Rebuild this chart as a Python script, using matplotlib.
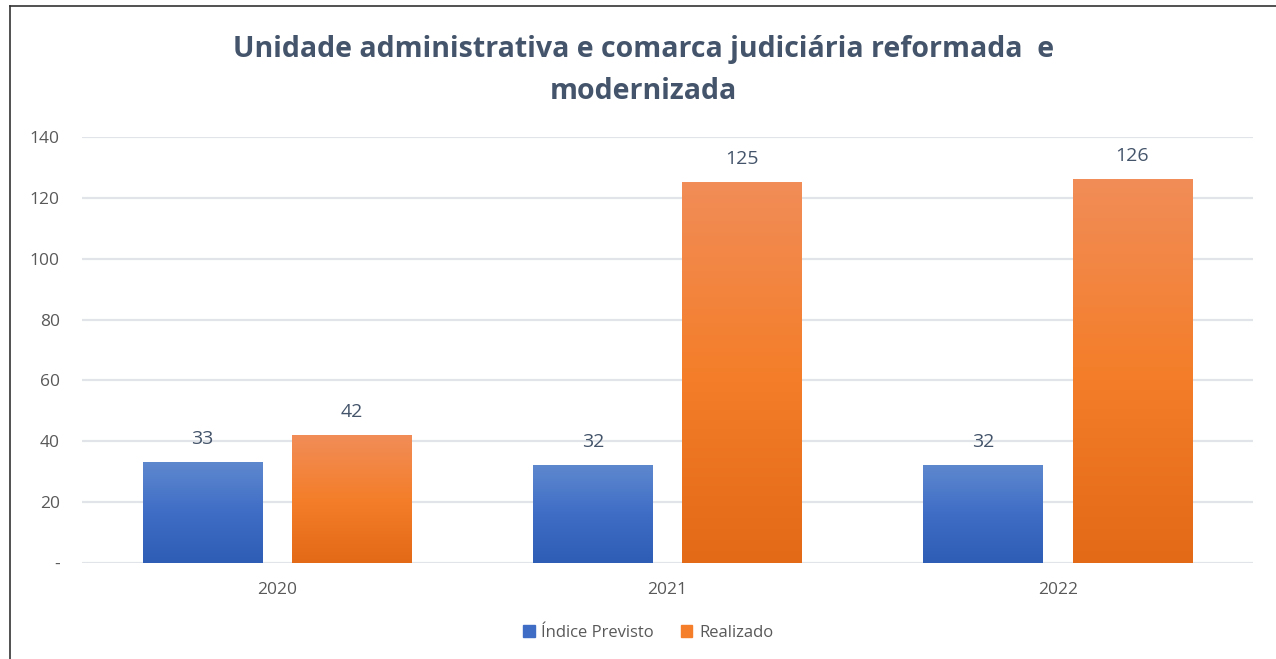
#! /usr/bin/env python

import matplotlib
matplotlib.use("Agg")
import matplotlib.pyplot as plt
import numpy as np
from matplotlib.colors import LinearSegmentedColormap
from matplotlib.lines import Line2D
from matplotlib.patches import Patch

plt.rcParams['font.family'] = ['Open Sans', 'DejaVu Sans']

anos      = ['2020', '2021', '2022']
previsto  = [33, 32, 32]
realizado = [42, 125, 126]
series    = ['Índice Previsto', 'Realizado']
yticks    = [0, 20, 40, 60, 80, 100, 120, 140]
ylabels   = ['-', '20', '40', '60', '80', '100', '120', '140']

title = 'Unidade administrativa e comarca judiciária reformada  e\nmodernizada'

azul    = ('#2E5DB6', '#3F6DC6', '#5E88CE')   ## bottom, mid, top
laranja = ('#E36A17', '#F47E2A', '#F18D58')
txt = '#595959'

fig = plt.figure(figsize=(12.76, 6.59), dpi=100)
ax = fig.add_axes([0.0643, 0.1457, 0.9177, 0.6463])

x = np.arange(len(anos))
w = 0.307
off = 0.191

b1 = ax.bar(x - off, previsto, w, color=azul[1], zorder=2)
b2 = ax.bar(x + off, realizado, w, color=laranja[1], zorder=2)

## gradient fill on top of each bar
grad = np.linspace(0, 1, 256).reshape(-1, 1)
for bars, cols in ((b1, azul), (b2, laranja)):
    cmap = LinearSegmentedColormap.from_list('g', cols)
    for r in bars:
        x0, y0 = r.get_x(), r.get_y()
        ax.imshow(grad, cmap=cmap, origin='lower', aspect='auto', zorder=3,
                  extent=[x0, x0 + r.get_width(), y0, y0 + r.get_height()])
        ax.annotate(str(int(r.get_height())), (x0 + r.get_width() / 2, r.get_height()),
                    xytext=(0, 17), textcoords='offset points', ha='center', va='center',
                    fontsize=14, color='#44546A')

ax.set_xlim(-0.5, 2.5)
ax.set_ylim(0, 140)
ax.set_yticks(yticks)
ax.set_yticklabels(ylabels)
ax.set_xticks(x)
ax.set_xticklabels(anos)
ax.tick_params(axis='both', length=0, labelsize=12.5, labelcolor=txt)
ax.tick_params(axis='y', pad=16)
ax.tick_params(axis='x', pad=14)
ax.grid(axis='y', color='#E1E5EA', lw=1.6, zorder=0)
for s in ax.spines.values():
    s.set_visible(False)

fig.text(0.504, 0.893, title, ha='center', va='center', fontsize=20.5,
         fontweight='bold', color='#44546A', linespacing=1.55)

handles = [Patch(color=azul[1]), Patch(color=laranja[1])]
fig.legend(handles, series, loc='center', bbox_to_anchor=(0.508, 0.04), ncol=2,
           frameon=False, fontsize=12, labelcolor=txt, handlelength=0.7,
           handleheight=0.7, handletextpad=0.4, columnspacing=1.6)

## screenshot border
fig.add_artist(Line2D([9.5 / 1276, 9.5 / 1276], [0, 1 - 6 / 659], color='#333333', lw=1.2))
fig.add_artist(Line2D([9.5 / 1276, 1], [1 - 6 / 659, 1 - 6 / 659], color='#333333', lw=1.2))

fig.savefig('out.png', dpi=100)
